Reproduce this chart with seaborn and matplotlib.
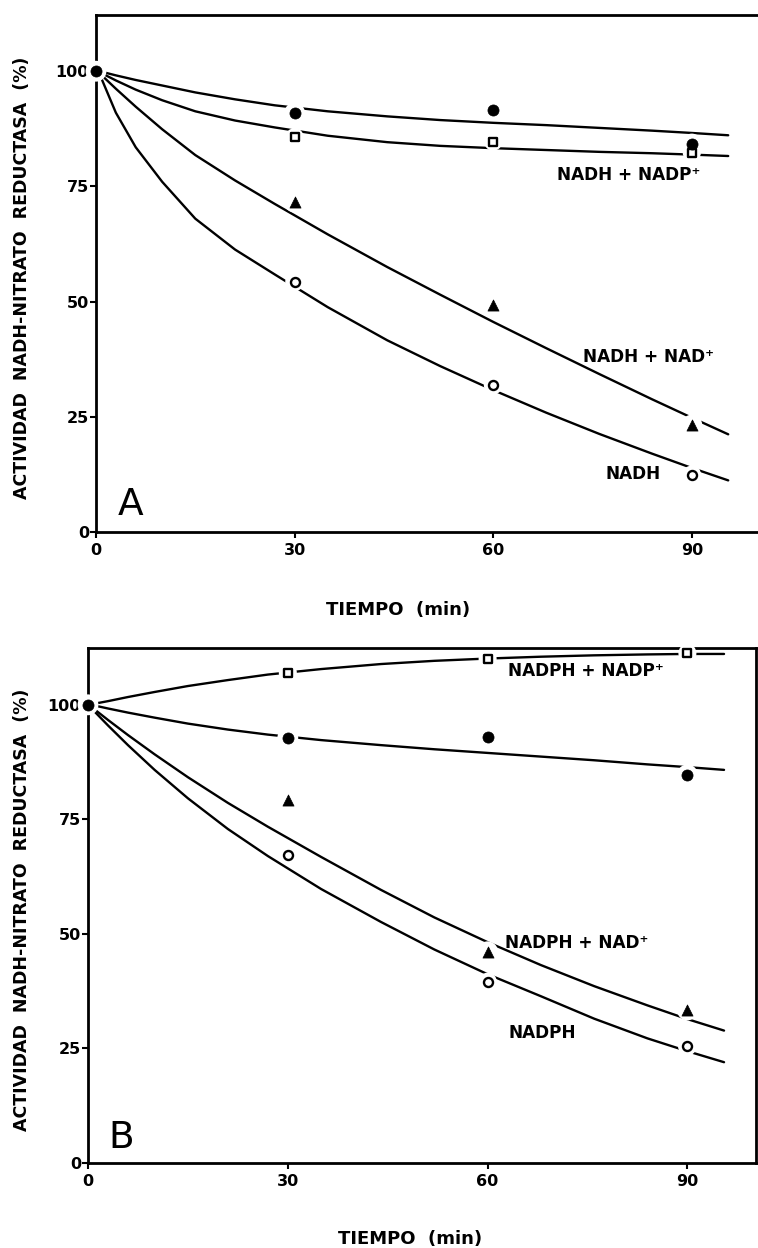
import matplotlib
matplotlib.use("Agg")
import matplotlib.pyplot as plt
import seaborn as sns
import pandas as pd

# ---------------- data ----------------
TIME = [0, 30, 60, 90]
XTICKS = [0, 30, 60, 90]
YTICKS = [0, 25, 50, 75, 100]

# Panel A markers
A_NADH = [100, 54.3, 31.9, 12.4]          # open circles
A_NADH_NAD = [100, 71.6, 49.2, 23.2]      # filled triangles
A_NADH_NADP = [100, 85.7, 84.7, 82.3]     # open squares
A_FILLED = [100, 90.9, 91.6, 84.2]        # filled circles

# Drawn curves
CURVE_T = [0.8, 3, 6, 10, 15, 21, 27, 35, 44, 52, 60, 68, 76, 84, 90, 95.5]
A_NADH_CURVE = [98.5, 91, 83.5, 76, 68, 61.3, 55.9, 48.8, 41.6, 36, 30.8,
                25.9, 21.3, 17, 13.9, 11.2]
A_NADH_NAD_CURVE = [99.2, 96.2, 92.3, 87.4, 81.8, 76.3, 71.2, 64.6, 57.5, 51.5,
                    45.6, 39.9, 34.3, 28.8, 24.8, 21.2]
A_NADH_NADP_CURVE = [99.6, 98, 96, 93.7, 91.3, 89.3, 87.8, 86.0, 84.6, 83.8,
                     83.3, 82.9, 82.5, 82.2, 81.9, 81.6]
A_FILLED_CURVE = [99.9, 99.1, 98.1, 96.9, 95.4, 93.9, 92.6, 91.3, 90.2, 89.4,
                  88.8, 88.3, 87.7, 87.1, 86.6, 86.1]

# Panel B markers
B_NADPH = [100, 67.2, 39.5, 25.5]         # open circles
B_NADPH_NAD = [100, 79.3, 46.1, 33.4]     # filled triangles
B_NADPH_NADP = [100, 107, 110, 111.3]     # open squares
B_FILLED = [100, 92.8, 93.0, 84.7]        # filled circles

B_NADPH_CURVE = [98.8, 95.5, 91.2, 85.8, 79.6, 72.9, 67.0, 59.8, 52.6, 46.6,
                 41.2, 36.4, 31.5, 27.2, 24.4, 22.0]
B_NADPH_NAD_CURVE = [99.2, 96.7, 93.4, 89.2, 84.2, 78.6, 73.4, 66.8, 59.6, 53.6,
                     48.2, 43.2, 38.6, 34.4, 31.4, 28.9]
B_NADPH_NADP_CURVE = [100.2, 100.8, 101.7, 102.8, 104.1, 105.4, 106.6, 107.8,
                      108.9, 109.6, 110.1, 110.5, 110.8, 111.0, 111.1, 111.1]
B_FILLED_CURVE = [99.9, 99.2, 98.3, 97.2, 95.9, 94.6, 93.5, 92.3, 91.2, 90.3,
                  89.5, 88.7, 87.9, 87.0, 86.4, 85.8]

YLABEL = "ACTIVIDAD  NADH-NITRATO  REDUCTASA  (%)"
XLABEL = "TIEMPO  (min)"

# ---------------- style ----------------
sns.set_style("ticks")
plt.rcParams["font.family"] = ["DejaVu Sans"]
plt.rcParams["font.weight"] = "bold"
for k in ("text.color", "axes.labelcolor", "xtick.color", "ytick.color",
          "axes.edgecolor"):
    plt.rcParams[k] = "black"

fig = plt.figure(figsize=(7.58, 12.48), dpi=100)
W, H = 758.0, 1248.0
axA = fig.add_axes([96 / W, 1 - 532 / H, (758 - 96) / W, (532 - 15) / H])
axB = fig.add_axes([88 / W, 1 - 1163 / H, (756 - 88) / W, (1163 - 648) / H])


def draw_panel(ax, curves, markers):
    for cy in curves:
        df = pd.DataFrame({"t": CURVE_T, "v": cy})
        sns.lineplot(data=df, x="t", y="v", ax=ax, color="black",
                     linewidth=1.7, estimator=None, sort=False, zorder=2)
    # white halos (gaps in the curves around the points)
    for vals, mk, ms, skip0 in markers:
        t = TIME[1:] if skip0 else TIME
        v = vals[1:] if skip0 else vals
        sns.scatterplot(x=t, y=v, ax=ax, marker="o", s=(ms + 7) ** 2,
                        color="white", edgecolor="none", linewidth=0,
                        zorder=3, clip_on=False, legend=False)
    for vals, mk, ms, skip0 in markers:
        t = TIME[1:] if skip0 else TIME
        v = vals[1:] if skip0 else vals
        if mk in ("o_open", "s_open"):
            sns.scatterplot(x=t, y=v, ax=ax, marker=mk[0], s=ms ** 2,
                            color="white", edgecolor="black", linewidth=1.7,
                            zorder=4, clip_on=False, legend=False)
        else:
            sns.scatterplot(x=t, y=v, ax=ax, marker=mk, s=ms ** 2,
                            color="black", edgecolor="black", linewidth=0.5,
                            zorder=5, clip_on=False, legend=False)


draw_panel(axA,
           [A_NADH_CURVE, A_NADH_NAD_CURVE, A_NADH_NADP_CURVE, A_FILLED_CURVE],
           [(A_NADH, "o_open", 6.5, True), (A_NADH_NAD, "^", 8.0, True),
            (A_NADH_NADP, "s_open", 6.0, True), (A_FILLED, "o", 8.0, False)])
draw_panel(axB,
           [B_NADPH_CURVE, B_NADPH_NAD_CURVE, B_NADPH_NADP_CURVE, B_FILLED_CURVE],
           [(B_NADPH, "o_open", 6.5, True), (B_NADPH_NAD, "^", 8.0, True),
            (B_NADPH_NADP, "s_open", 6.0, True), (B_FILLED, "o", 8.0, False)])

axA.set_xlim(0, 100)
axA.set_ylim(0, 112.2)
axB.set_xlim(0, 100.3)
axB.set_ylim(0, 112.4)

for ax in (axA, axB):
    ax.set_xticks(XTICKS)
    ax.set_yticks(YTICKS)
    ax.set_xticklabels([str(v) for v in XTICKS])
    ax.set_yticklabels([str(v) for v in YTICKS])
    ax.tick_params(axis="both", direction="out", length=4, width=1.5,
                   labelsize=11.5, colors="black")
    ax.tick_params(axis="y", pad=1)
    ax.tick_params(axis="x", pad=4)
    for s in ("left", "bottom", "top", "right"):
        ax.spines[s].set_linewidth(2.0)
        ax.spines[s].set_color("black")
    ax.set_xlabel(XLABEL, fontsize=13, fontweight="bold", color="black")
    ax.set_ylabel(YLABEL, fontsize=12.5, fontweight="bold", color="black")
    ax.xaxis.label.set_va("baseline")
    ax.yaxis.label.set_va("center")

axA.spines["right"].set_visible(False)
axB.spines["right"].set_visible(True)

axA.xaxis.set_label_coords((398 - 96) / 662, -(615 - 532) / 517)
axA.yaxis.set_label_coords((22 - 96) / 662, (532 - 278) / 517)
axB.xaxis.set_label_coords((410 - 88) / 668, -(1244 - 1163) / 515)
axB.yaxis.set_label_coords((22 - 88) / 668, (1163 - 910) / 515)

# panel letters
axA.text(3.3, 3.7, "A", fontsize=27, fontweight="normal", ha="left",
         va="baseline", color="black")
axB.text(3.0, 3.3, "B", fontsize=27, fontweight="normal", ha="left",
         va="baseline", color="black")

# curve labels
lab = dict(fontsize=12.2, fontweight="bold", ha="left", va="baseline", color="black")
axA.text(69.7, 76.4, "NADH + NADP\u207a", **lab)
axA.text(73.5, 36.9, "NADH + NAD\u207a", **lab)
axA.text(76.9, 11.5, "NADH", **lab)
axB.text(63.1, 106.3, "NADPH + NADP\u207a", **lab)
axB.text(62.6, 46.9, "NADPH + NAD\u207a", **lab)
axB.text(63.1, 27.3, "NADPH", **lab)

fig.savefig("out.png", dpi=100, facecolor="white")
